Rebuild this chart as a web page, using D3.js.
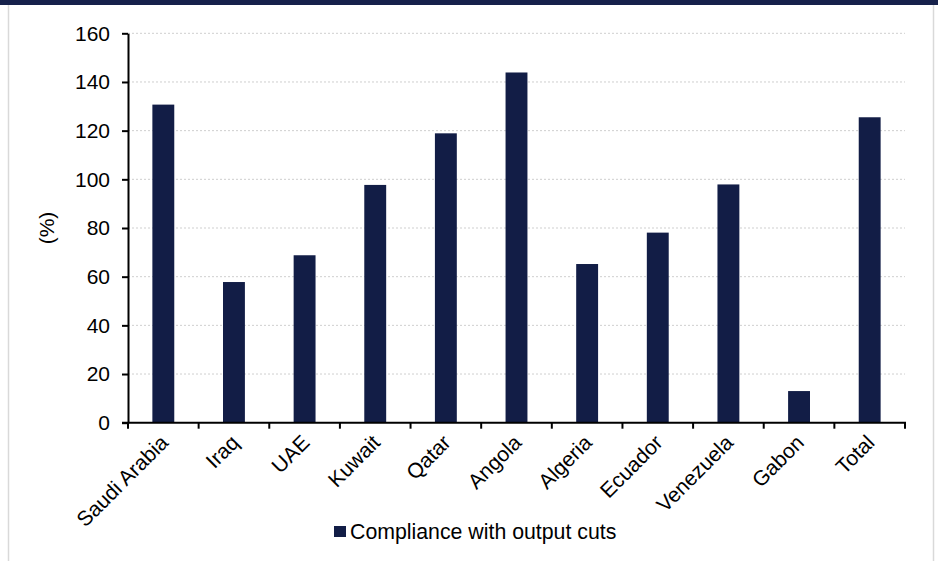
<!DOCTYPE html>
<html><head><meta charset="utf-8">
<script src="https://cdnjs.cloudflare.com/ajax/libs/d3/7.8.5/d3.min.js"></script>
<style>body{margin:0;background:#fff;}svg{display:block;font-family:"Liberation Sans",Arial,sans-serif;}</style>
</head><body>
<svg id="c" width="938" height="561"></svg>
<script>
const categories = ["Saudi Arabia","Iraq","UAE","Kuwait","Qatar","Angola","Algeria","Ecuador","Venezuela","Gabon","Total"];
const compliance = [130.7, 57.8, 68.8, 97.7, 118.9, 143.9, 65.2, 78.1, 97.9, 13.0, 125.5];
const yTicks = [0,20,40,60,80,100,120,140,160];
const seriesName = "Compliance with output cuts";
const yLabel = "(%)";

const svg = d3.select("#c");
const barColor = "#121d46";

// frame
svg.append("rect").attr("x",0).attr("y",0).attr("width",938).attr("height",5).attr("fill","#16214b");
svg.append("line").attr("x1",8.5).attr("x2",8.5).attr("y1",5).attr("y2",561).attr("stroke","#d9d9d9").attr("stroke-width",1.5);
svg.append("line").attr("x1",933.5).attr("x2",933.5).attr("y1",5).attr("y2",561).attr("stroke","#d9d9d9").attr("stroke-width",1.5);

const L = 128, R = 905, T = 33.3, B = 422.7;
const x = d3.scaleBand().domain(categories).range([L,R]).paddingInner(0.69).paddingOuter(0.345);
const xb = d3.scaleBand().domain(categories).range([L,R]);
const y = d3.scaleLinear().domain([0,160]).range([B,T]);

// gridlines
svg.append("g").selectAll("line").data(yTicks.filter(d=>d>0)).join("line")
  .attr("x1",L).attr("x2",R).attr("y1",d=>y(d)).attr("y2",d=>y(d))
  .attr("stroke","#cfcfcf").attr("stroke-width",1).attr("stroke-dasharray","2,2");

// bars
svg.append("g").selectAll("rect").data(categories).join("rect")
  .attr("x",(d)=>x(d)).attr("width",x.bandwidth())
  .attr("y",(d,i)=>y(compliance[i])).attr("height",(d,i)=>B-y(compliance[i]))
  .attr("fill",barColor);

// y axis
const yAxis = svg.append("g").attr("transform",`translate(${L},0)`)
  .call(d3.axisLeft(y).tickValues(yTicks).tickSize(6).tickPadding(12).tickSizeOuter(0));
yAxis.select(".domain").attr("stroke","#000").attr("stroke-width",2);
yAxis.selectAll(".tick line").attr("stroke","#000").attr("stroke-width",2);
yAxis.selectAll(".tick text").attr("font-size","21px").attr("fill","#000").attr("font-family","Liberation Sans, Arial, sans-serif");

// x axis: ticks at band boundaries
const xg = svg.append("g");
xg.append("line").attr("x1",L-6).attr("x2",R+1).attr("y1",B).attr("y2",B).attr("stroke","#000").attr("stroke-width",2);
const bounds = categories.map(c=>xb(c)).concat([R]);
xg.selectAll("line.t").data(bounds).join("line").attr("class","t")
  .attr("x1",d=>d).attr("x2",d=>d).attr("y1",B).attr("y2",B+6).attr("stroke","#000").attr("stroke-width",2);
xg.selectAll("text").data(categories).join("text")
  .attr("transform",d=>`translate(${xb(d)+xb.bandwidth()/2+1},${B+16}) rotate(-45)`)
  .attr("text-anchor","end").attr("font-size","21px").attr("fill","#000").attr("dy","0.35em")
  .text(d=>d);

// y label
svg.append("text").attr("transform","translate(54,228) rotate(-90)")
  .attr("text-anchor","middle").attr("font-size","21px").attr("fill","#000").text(yLabel);

// legend
svg.append("rect").attr("x",334).attr("y",526).attr("width",12).attr("height",11).attr("fill",barColor);
svg.append("text").attr("x",350).attr("y",538.5).attr("font-size","21.3px").attr("fill","#000").text(seriesName);
</script>
</body></html>
